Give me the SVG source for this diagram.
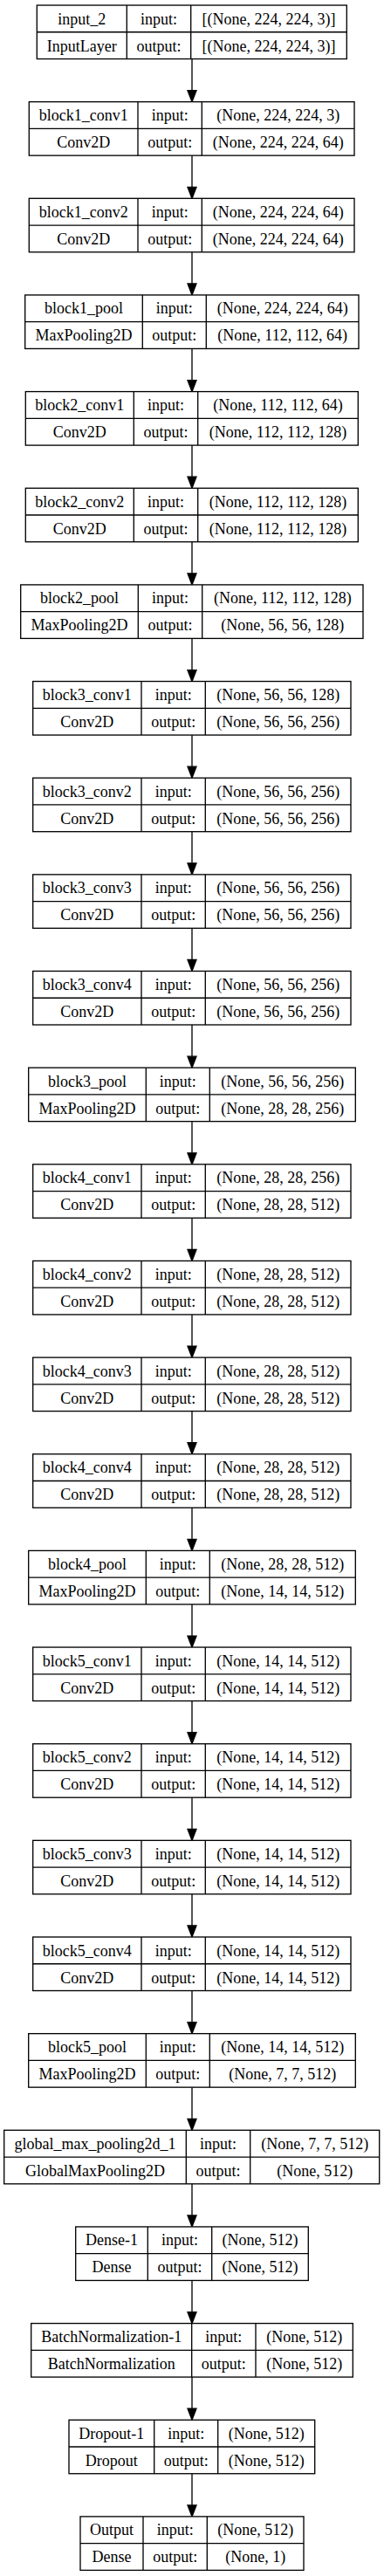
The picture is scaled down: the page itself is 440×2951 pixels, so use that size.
<svg xmlns="http://www.w3.org/2000/svg" width="440" height="2951" viewBox="0 0 440 2951">
<style>
rect.b{fill:#fff;stroke:#000;stroke-width:1.33}
line.d{stroke:#000;stroke-width:1.33}
text{font-family:"Liberation Serif","Times New Roman",serif;font-size:18px;fill:#000;text-anchor:middle}
.e line{stroke:#000;stroke-width:1.33}
.e polygon{fill:#000;stroke:#000;stroke-width:1.33}
</style>
<rect width="440" height="2951" fill="#fff"/>
<g class="e" id="edges">
<line x1="220" y1="67.5" x2="220" y2="103.65"/><polygon points="215,103.65 225,103.65 220,116.65"/>
<line x1="220" y1="178.15" x2="220" y2="214.3"/><polygon points="215,214.3 225,214.3 220,227.3"/>
<line x1="220" y1="288.8" x2="220" y2="324.95"/><polygon points="215,324.95 225,324.95 220,337.95"/>
<line x1="220" y1="399.45" x2="220" y2="435.6"/><polygon points="215,435.6 225,435.6 220,448.6"/>
<line x1="220" y1="510.1" x2="220" y2="546.25"/><polygon points="215,546.25 225,546.25 220,559.25"/>
<line x1="220" y1="620.75" x2="220" y2="656.9"/><polygon points="215,656.9 225,656.9 220,669.9"/>
<line x1="220" y1="731.4" x2="220" y2="767.55"/><polygon points="215,767.55 225,767.55 220,780.55"/>
<line x1="220" y1="842.05" x2="220" y2="878.2"/><polygon points="215,878.2 225,878.2 220,891.2"/>
<line x1="220" y1="952.7" x2="220" y2="988.85"/><polygon points="215,988.85 225,988.85 220,1001.85"/>
<line x1="220" y1="1063.35" x2="220" y2="1099.5"/><polygon points="215,1099.5 225,1099.5 220,1112.5"/>
<line x1="220" y1="1174" x2="220" y2="1210.15"/><polygon points="215,1210.15 225,1210.15 220,1223.15"/>
<line x1="220" y1="1284.65" x2="220" y2="1320.8"/><polygon points="215,1320.8 225,1320.8 220,1333.8"/>
<line x1="220" y1="1395.3" x2="220" y2="1431.45"/><polygon points="215,1431.45 225,1431.45 220,1444.45"/>
<line x1="220" y1="1505.95" x2="220" y2="1542.1"/><polygon points="215,1542.1 225,1542.1 220,1555.1"/>
<line x1="220" y1="1616.6" x2="220" y2="1652.75"/><polygon points="215,1652.75 225,1652.75 220,1665.75"/>
<line x1="220" y1="1727.25" x2="220" y2="1763.4"/><polygon points="215,1763.4 225,1763.4 220,1776.4"/>
<line x1="220" y1="1837.9" x2="220" y2="1874.05"/><polygon points="215,1874.05 225,1874.05 220,1887.05"/>
<line x1="220" y1="1948.55" x2="220" y2="1984.7"/><polygon points="215,1984.7 225,1984.7 220,1997.7"/>
<line x1="220" y1="2059.2" x2="220" y2="2095.35"/><polygon points="215,2095.35 225,2095.35 220,2108.35"/>
<line x1="220" y1="2169.85" x2="220" y2="2206"/><polygon points="215,2206 225,2206 220,2219"/>
<line x1="220" y1="2280.5" x2="220" y2="2316.65"/><polygon points="215,2316.65 225,2316.65 220,2329.65"/>
<line x1="220" y1="2391.15" x2="220" y2="2427.3"/><polygon points="215,2427.3 225,2427.3 220,2440.3"/>
<line x1="220" y1="2501.8" x2="220" y2="2537.95"/><polygon points="215,2537.95 225,2537.95 220,2550.95"/>
<line x1="220" y1="2612.45" x2="220" y2="2648.6"/><polygon points="215,2648.6 225,2648.6 220,2661.6"/>
<line x1="220" y1="2723.1" x2="220" y2="2759.25"/><polygon points="215,2759.25 225,2759.25 220,2772.25"/>
<line x1="220" y1="2833.75" x2="220" y2="2869.9"/><polygon points="215,2869.9 225,2869.9 220,2882.9"/>
</g>

<g id="input_2" transform="translate(0,6)"><rect class="b" x="42.3" y="0" width="355" height="61.5"/><line class="d" x1="42.3" y1="30.75" x2="397.3" y2="30.75"/><line class="d" x1="145.3" y1="0" x2="145.3" y2="61.5"/><line class="d" x1="218.7" y1="0" x2="218.7" y2="61.5"/>
<text x="93.8" y="21.5">input_2</text><text x="182" y="21.5">input:</text><text x="308" y="21.5">[(None, 224, 224, 3)]</text>
<text x="93.8" y="52.5">InputLayer</text><text x="182" y="52.5">output:</text><text x="308" y="52.5">[(None, 224, 224, 3)]</text></g>

<g id="block1_conv1" transform="translate(0,116.65)"><rect class="b" x="33.3" y="0" width="372.7" height="61.5"/><line class="d" x1="33.3" y1="30.75" x2="406" y2="30.75"/><line class="d" x1="158" y1="0" x2="158" y2="61.5"/><line class="d" x1="231.3" y1="0" x2="231.3" y2="61.5"/>
<text x="95.65" y="21.5">block1_conv1</text><text x="194.65" y="21.5">input:</text><text x="318.65" y="21.5">(None, 224, 224, 3)</text>
<text x="95.65" y="52.5">Conv2D</text><text x="194.65" y="52.5">output:</text><text x="318.65" y="52.5">(None, 224, 224, 64)</text></g>

<g id="block1_conv2" transform="translate(0,227.3)"><rect class="b" x="33.3" y="0" width="372.7" height="61.5"/><line class="d" x1="33.3" y1="30.75" x2="406" y2="30.75"/><line class="d" x1="158" y1="0" x2="158" y2="61.5"/><line class="d" x1="231.3" y1="0" x2="231.3" y2="61.5"/>
<text x="95.65" y="21.5">block1_conv2</text><text x="194.65" y="21.5">input:</text><text x="318.65" y="21.5">(None, 224, 224, 64)</text>
<text x="95.65" y="52.5">Conv2D</text><text x="194.65" y="52.5">output:</text><text x="318.65" y="52.5">(None, 224, 224, 64)</text></g>

<g id="block1_pool" transform="translate(0,337.95)"><rect class="b" x="28.7" y="0" width="382.3" height="61.5"/><line class="d" x1="28.7" y1="30.75" x2="411" y2="30.75"/><line class="d" x1="163.3" y1="0" x2="163.3" y2="61.5"/><line class="d" x1="236.3" y1="0" x2="236.3" y2="61.5"/>
<text x="96" y="21.5">block1_pool</text><text x="199.8" y="21.5">input:</text><text x="323.65" y="21.5">(None, 224, 224, 64)</text>
<text x="96" y="52.5">MaxPooling2D</text><text x="199.8" y="52.5">output:</text><text x="323.65" y="52.5">(None, 112, 112, 64)</text></g>

<g id="block2_conv1" transform="translate(0,448.6)"><rect class="b" x="29.3" y="0" width="381" height="61.5"/><line class="d" x1="29.3" y1="30.75" x2="410.3" y2="30.75"/><line class="d" x1="153.3" y1="0" x2="153.3" y2="61.5"/><line class="d" x1="226.7" y1="0" x2="226.7" y2="61.5"/>
<text x="91.3" y="21.5">block2_conv1</text><text x="190" y="21.5">input:</text><text x="318.5" y="21.5">(None, 112, 112, 64)</text>
<text x="91.3" y="52.5">Conv2D</text><text x="190" y="52.5">output:</text><text x="318.5" y="52.5">(None, 112, 112, 128)</text></g>

<g id="block2_conv2" transform="translate(0,559.25)"><rect class="b" x="29.3" y="0" width="381" height="61.5"/><line class="d" x1="29.3" y1="30.75" x2="410.3" y2="30.75"/><line class="d" x1="153.3" y1="0" x2="153.3" y2="61.5"/><line class="d" x1="226.7" y1="0" x2="226.7" y2="61.5"/>
<text x="91.3" y="21.5">block2_conv2</text><text x="190" y="21.5">input:</text><text x="318.5" y="21.5">(None, 112, 112, 128)</text>
<text x="91.3" y="52.5">Conv2D</text><text x="190" y="52.5">output:</text><text x="318.5" y="52.5">(None, 112, 112, 128)</text></g>

<g id="block2_pool" transform="translate(0,669.9)"><rect class="b" x="23.7" y="0" width="392.3" height="61.5"/><line class="d" x1="23.7" y1="30.75" x2="416" y2="30.75"/><line class="d" x1="158.3" y1="0" x2="158.3" y2="61.5"/><line class="d" x1="231.7" y1="0" x2="231.7" y2="61.5"/>
<text x="91" y="21.5">block2_pool</text><text x="195" y="21.5">input:</text><text x="323.85" y="21.5">(None, 112, 112, 128)</text>
<text x="91" y="52.5">MaxPooling2D</text><text x="195" y="52.5">output:</text><text x="323.85" y="52.5">(None, 56, 56, 128)</text></g>

<g id="block3_conv1" transform="translate(0,780.55)"><rect class="b" x="37.7" y="0" width="364.3" height="61.5"/><line class="d" x1="37.7" y1="30.75" x2="402" y2="30.75"/><line class="d" x1="162" y1="0" x2="162" y2="61.5"/><line class="d" x1="235.3" y1="0" x2="235.3" y2="61.5"/>
<text x="99.85" y="21.5">block3_conv1</text><text x="198.65" y="21.5">input:</text><text x="318.65" y="21.5">(None, 56, 56, 128)</text>
<text x="99.85" y="52.5">Conv2D</text><text x="198.65" y="52.5">output:</text><text x="318.65" y="52.5">(None, 56, 56, 256)</text></g>

<g id="block3_conv2" transform="translate(0,891.2)"><rect class="b" x="37.7" y="0" width="364.3" height="61.5"/><line class="d" x1="37.7" y1="30.75" x2="402" y2="30.75"/><line class="d" x1="162" y1="0" x2="162" y2="61.5"/><line class="d" x1="235.3" y1="0" x2="235.3" y2="61.5"/>
<text x="99.85" y="21.5">block3_conv2</text><text x="198.65" y="21.5">input:</text><text x="318.65" y="21.5">(None, 56, 56, 256)</text>
<text x="99.85" y="52.5">Conv2D</text><text x="198.65" y="52.5">output:</text><text x="318.65" y="52.5">(None, 56, 56, 256)</text></g>

<g id="block3_conv3" transform="translate(0,1001.85)"><rect class="b" x="37.7" y="0" width="364.3" height="61.5"/><line class="d" x1="37.7" y1="30.75" x2="402" y2="30.75"/><line class="d" x1="162" y1="0" x2="162" y2="61.5"/><line class="d" x1="235.3" y1="0" x2="235.3" y2="61.5"/>
<text x="99.85" y="21.5">block3_conv3</text><text x="198.65" y="21.5">input:</text><text x="318.65" y="21.5">(None, 56, 56, 256)</text>
<text x="99.85" y="52.5">Conv2D</text><text x="198.65" y="52.5">output:</text><text x="318.65" y="52.5">(None, 56, 56, 256)</text></g>

<g id="block3_conv4" transform="translate(0,1112.5)"><rect class="b" x="37.7" y="0" width="364.3" height="61.5"/><line class="d" x1="37.7" y1="30.75" x2="402" y2="30.75"/><line class="d" x1="162" y1="0" x2="162" y2="61.5"/><line class="d" x1="235.3" y1="0" x2="235.3" y2="61.5"/>
<text x="99.85" y="21.5">block3_conv4</text><text x="198.65" y="21.5">input:</text><text x="318.65" y="21.5">(None, 56, 56, 256)</text>
<text x="99.85" y="52.5">Conv2D</text><text x="198.65" y="52.5">output:</text><text x="318.65" y="52.5">(None, 56, 56, 256)</text></g>

<g id="block3_pool" transform="translate(0,1223.15)"><rect class="b" x="32.7" y="0" width="374.6" height="61.5"/><line class="d" x1="32.7" y1="30.75" x2="407.3" y2="30.75"/><line class="d" x1="167.3" y1="0" x2="167.3" y2="61.5"/><line class="d" x1="240.3" y1="0" x2="240.3" y2="61.5"/>
<text x="100" y="21.5">block3_pool</text><text x="203.8" y="21.5">input:</text><text x="323.8" y="21.5">(None, 56, 56, 256)</text>
<text x="100" y="52.5">MaxPooling2D</text><text x="203.8" y="52.5">output:</text><text x="323.8" y="52.5">(None, 28, 28, 256)</text></g>

<g id="block4_conv1" transform="translate(0,1333.8)"><rect class="b" x="37.7" y="0" width="364.3" height="61.5"/><line class="d" x1="37.7" y1="30.75" x2="402" y2="30.75"/><line class="d" x1="162" y1="0" x2="162" y2="61.5"/><line class="d" x1="235.3" y1="0" x2="235.3" y2="61.5"/>
<text x="99.85" y="21.5">block4_conv1</text><text x="198.65" y="21.5">input:</text><text x="318.65" y="21.5">(None, 28, 28, 256)</text>
<text x="99.85" y="52.5">Conv2D</text><text x="198.65" y="52.5">output:</text><text x="318.65" y="52.5">(None, 28, 28, 512)</text></g>

<g id="block4_conv2" transform="translate(0,1444.45)"><rect class="b" x="37.7" y="0" width="364.3" height="61.5"/><line class="d" x1="37.7" y1="30.75" x2="402" y2="30.75"/><line class="d" x1="162" y1="0" x2="162" y2="61.5"/><line class="d" x1="235.3" y1="0" x2="235.3" y2="61.5"/>
<text x="99.85" y="21.5">block4_conv2</text><text x="198.65" y="21.5">input:</text><text x="318.65" y="21.5">(None, 28, 28, 512)</text>
<text x="99.85" y="52.5">Conv2D</text><text x="198.65" y="52.5">output:</text><text x="318.65" y="52.5">(None, 28, 28, 512)</text></g>

<g id="block4_conv3" transform="translate(0,1555.1)"><rect class="b" x="37.7" y="0" width="364.3" height="61.5"/><line class="d" x1="37.7" y1="30.75" x2="402" y2="30.75"/><line class="d" x1="162" y1="0" x2="162" y2="61.5"/><line class="d" x1="235.3" y1="0" x2="235.3" y2="61.5"/>
<text x="99.85" y="21.5">block4_conv3</text><text x="198.65" y="21.5">input:</text><text x="318.65" y="21.5">(None, 28, 28, 512)</text>
<text x="99.85" y="52.5">Conv2D</text><text x="198.65" y="52.5">output:</text><text x="318.65" y="52.5">(None, 28, 28, 512)</text></g>

<g id="block4_conv4" transform="translate(0,1665.75)"><rect class="b" x="37.7" y="0" width="364.3" height="61.5"/><line class="d" x1="37.7" y1="30.75" x2="402" y2="30.75"/><line class="d" x1="162" y1="0" x2="162" y2="61.5"/><line class="d" x1="235.3" y1="0" x2="235.3" y2="61.5"/>
<text x="99.85" y="21.5">block4_conv4</text><text x="198.65" y="21.5">input:</text><text x="318.65" y="21.5">(None, 28, 28, 512)</text>
<text x="99.85" y="52.5">Conv2D</text><text x="198.65" y="52.5">output:</text><text x="318.65" y="52.5">(None, 28, 28, 512)</text></g>

<g id="block4_pool" transform="translate(0,1776.4)"><rect class="b" x="32.7" y="0" width="374.6" height="61.5"/><line class="d" x1="32.7" y1="30.75" x2="407.3" y2="30.75"/><line class="d" x1="167.3" y1="0" x2="167.3" y2="61.5"/><line class="d" x1="240.3" y1="0" x2="240.3" y2="61.5"/>
<text x="100" y="21.5">block4_pool</text><text x="203.8" y="21.5">input:</text><text x="323.8" y="21.5">(None, 28, 28, 512)</text>
<text x="100" y="52.5">MaxPooling2D</text><text x="203.8" y="52.5">output:</text><text x="323.8" y="52.5">(None, 14, 14, 512)</text></g>

<g id="block5_conv1" transform="translate(0,1887.05)"><rect class="b" x="37.7" y="0" width="364.3" height="61.5"/><line class="d" x1="37.7" y1="30.75" x2="402" y2="30.75"/><line class="d" x1="162" y1="0" x2="162" y2="61.5"/><line class="d" x1="235.3" y1="0" x2="235.3" y2="61.5"/>
<text x="99.85" y="21.5">block5_conv1</text><text x="198.65" y="21.5">input:</text><text x="318.65" y="21.5">(None, 14, 14, 512)</text>
<text x="99.85" y="52.5">Conv2D</text><text x="198.65" y="52.5">output:</text><text x="318.65" y="52.5">(None, 14, 14, 512)</text></g>

<g id="block5_conv2" transform="translate(0,1997.7)"><rect class="b" x="37.7" y="0" width="364.3" height="61.5"/><line class="d" x1="37.7" y1="30.75" x2="402" y2="30.75"/><line class="d" x1="162" y1="0" x2="162" y2="61.5"/><line class="d" x1="235.3" y1="0" x2="235.3" y2="61.5"/>
<text x="99.85" y="21.5">block5_conv2</text><text x="198.65" y="21.5">input:</text><text x="318.65" y="21.5">(None, 14, 14, 512)</text>
<text x="99.85" y="52.5">Conv2D</text><text x="198.65" y="52.5">output:</text><text x="318.65" y="52.5">(None, 14, 14, 512)</text></g>

<g id="block5_conv3" transform="translate(0,2108.35)"><rect class="b" x="37.7" y="0" width="364.3" height="61.5"/><line class="d" x1="37.7" y1="30.75" x2="402" y2="30.75"/><line class="d" x1="162" y1="0" x2="162" y2="61.5"/><line class="d" x1="235.3" y1="0" x2="235.3" y2="61.5"/>
<text x="99.85" y="21.5">block5_conv3</text><text x="198.65" y="21.5">input:</text><text x="318.65" y="21.5">(None, 14, 14, 512)</text>
<text x="99.85" y="52.5">Conv2D</text><text x="198.65" y="52.5">output:</text><text x="318.65" y="52.5">(None, 14, 14, 512)</text></g>

<g id="block5_conv4" transform="translate(0,2219)"><rect class="b" x="37.7" y="0" width="364.3" height="61.5"/><line class="d" x1="37.7" y1="30.75" x2="402" y2="30.75"/><line class="d" x1="162" y1="0" x2="162" y2="61.5"/><line class="d" x1="235.3" y1="0" x2="235.3" y2="61.5"/>
<text x="99.85" y="21.5">block5_conv4</text><text x="198.65" y="21.5">input:</text><text x="318.65" y="21.5">(None, 14, 14, 512)</text>
<text x="99.85" y="52.5">Conv2D</text><text x="198.65" y="52.5">output:</text><text x="318.65" y="52.5">(None, 14, 14, 512)</text></g>

<g id="block5_pool" transform="translate(0,2329.65)"><rect class="b" x="32.7" y="0" width="374.6" height="61.5"/><line class="d" x1="32.7" y1="30.75" x2="407.3" y2="30.75"/><line class="d" x1="167.3" y1="0" x2="167.3" y2="61.5"/><line class="d" x1="240.3" y1="0" x2="240.3" y2="61.5"/>
<text x="100" y="21.5">block5_pool</text><text x="203.8" y="21.5">input:</text><text x="323.8" y="21.5">(None, 14, 14, 512)</text>
<text x="100" y="52.5">MaxPooling2D</text><text x="203.8" y="52.5">output:</text><text x="323.8" y="52.5">(None, 7, 7, 512)</text></g>

<g id="global_max_pooling2d_1" transform="translate(0,2440.3)"><rect class="b" x="4.7" y="0" width="430" height="61.5"/><line class="d" x1="4.7" y1="30.75" x2="434.7" y2="30.75"/><line class="d" x1="213.3" y1="0" x2="213.3" y2="61.5"/><line class="d" x1="286.7" y1="0" x2="286.7" y2="61.5"/>
<text x="109" y="21.5">global_max_pooling2d_1</text><text x="250" y="21.5">input:</text><text x="360.7" y="21.5">(None, 7, 7, 512)</text>
<text x="109" y="52.5">GlobalMaxPooling2D</text><text x="250" y="52.5">output:</text><text x="360.7" y="52.5">(None, 512)</text></g>

<g id="Dense-1" transform="translate(0,2550.95)"><rect class="b" x="86.7" y="0" width="266.6" height="61.5"/><line class="d" x1="86.7" y1="30.75" x2="353.3" y2="30.75"/><line class="d" x1="169.3" y1="0" x2="169.3" y2="61.5"/><line class="d" x1="242.7" y1="0" x2="242.7" y2="61.5"/>
<text x="128" y="21.5">Dense-1</text><text x="206" y="21.5">input:</text><text x="298" y="21.5">(None, 512)</text>
<text x="128" y="52.5">Dense</text><text x="206" y="52.5">output:</text><text x="298" y="52.5">(None, 512)</text></g>

<g id="BatchNormalization-1" transform="translate(0,2661.6)"><rect class="b" x="35.7" y="0" width="368.6" height="61.5"/><line class="d" x1="35.7" y1="30.75" x2="404.3" y2="30.75"/><line class="d" x1="219.7" y1="0" x2="219.7" y2="61.5"/><line class="d" x1="293" y1="0" x2="293" y2="61.5"/>
<text x="127.7" y="21.5">BatchNormalization-1</text><text x="256.35" y="21.5">input:</text><text x="348.65" y="21.5">(None, 512)</text>
<text x="127.7" y="52.5">BatchNormalization</text><text x="256.35" y="52.5">output:</text><text x="348.65" y="52.5">(None, 512)</text></g>

<g id="Dropout-1" transform="translate(0,2772.25)"><rect class="b" x="79" y="0" width="281.7" height="61.5"/><line class="d" x1="79" y1="30.75" x2="360.7" y2="30.75"/><line class="d" x1="176.7" y1="0" x2="176.7" y2="61.5"/><line class="d" x1="249.7" y1="0" x2="249.7" y2="61.5"/>
<text x="127.85" y="21.5">Dropout-1</text><text x="213.2" y="21.5">input:</text><text x="305.2" y="21.5">(None, 512)</text>
<text x="127.85" y="52.5">Dropout</text><text x="213.2" y="52.5">output:</text><text x="305.2" y="52.5">(None, 512)</text></g>

<g id="Output" transform="translate(0,2882.9)"><rect class="b" x="92" y="0" width="256" height="61.5"/><line class="d" x1="92" y1="30.75" x2="348" y2="30.75"/><line class="d" x1="164" y1="0" x2="164" y2="61.5"/><line class="d" x1="237.3" y1="0" x2="237.3" y2="61.5"/>
<text x="128" y="21.5">Output</text><text x="200.65" y="21.5">input:</text><text x="292.65" y="21.5">(None, 512)</text>
<text x="128" y="52.5">Dense</text><text x="200.65" y="52.5">output:</text><text x="292.65" y="52.5">(None, 1)</text></g>
</svg>
